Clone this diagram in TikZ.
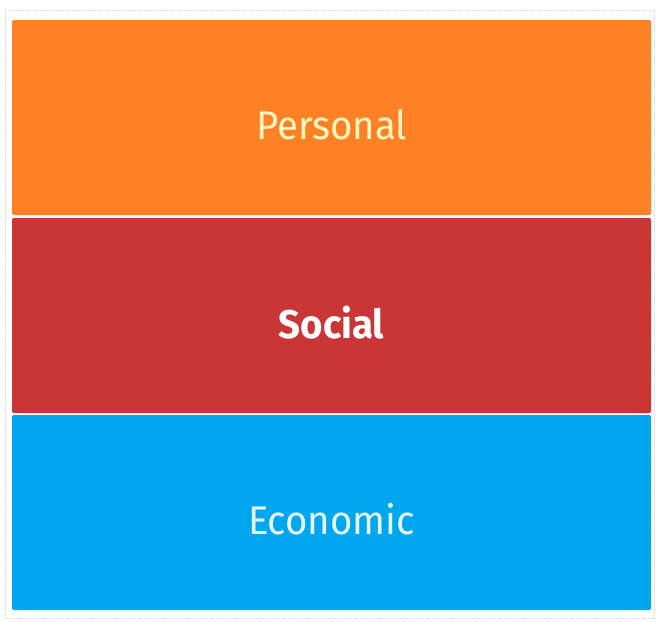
\documentclass[tikz,border=0pt]{standalone}
\usepackage{fontspec}
\setmainfont{Fira Sans}[FakeStretch=0.96]
\definecolor{porange}{HTML}{FF8125}
\definecolor{sred}{HTML}{C93635}
\definecolor{eblue}{HTML}{00A6EE}
\definecolor{ptext}{HTML}{FFF6C0}
\definecolor{etext}{HTML}{E8FAFF}
\definecolor{frame}{HTML}{D8D8DC}
\begin{document}
\begin{tikzpicture}[x=1pt,y=-1pt,
  layer/.style={minimum width=639pt,minimum height=195pt,inner sep=0pt,outer sep=0pt,rounded corners=2pt,anchor=north west},
  lbl/.style={font=\fontsize{40}{40}\selectfont,yshift=-7pt}]
\useasboundingbox (0,0) rectangle (658,621);
\fill[white] (0,0) rectangle (658,621);
\draw[frame,densely dotted,line width=0.8pt] (5,10) rectangle (654,618);
\node[layer,fill=porange] (personal) at (12,20) {};
\node[layer,fill=sred] (social) at (12,218) {};
\node[layer,fill=eblue] (economic) at (12,415) {};
\node[lbl,text=ptext] (tp) at (personal.center) {Personal};
\node[lbl,text=white,font=\fontsize{40}{40}\selectfont\bfseries] (ts) at (social.center) {Social};
\node[lbl,text=etext] (te) at (economic.center) {Economic};
\end{tikzpicture}
\end{document}
